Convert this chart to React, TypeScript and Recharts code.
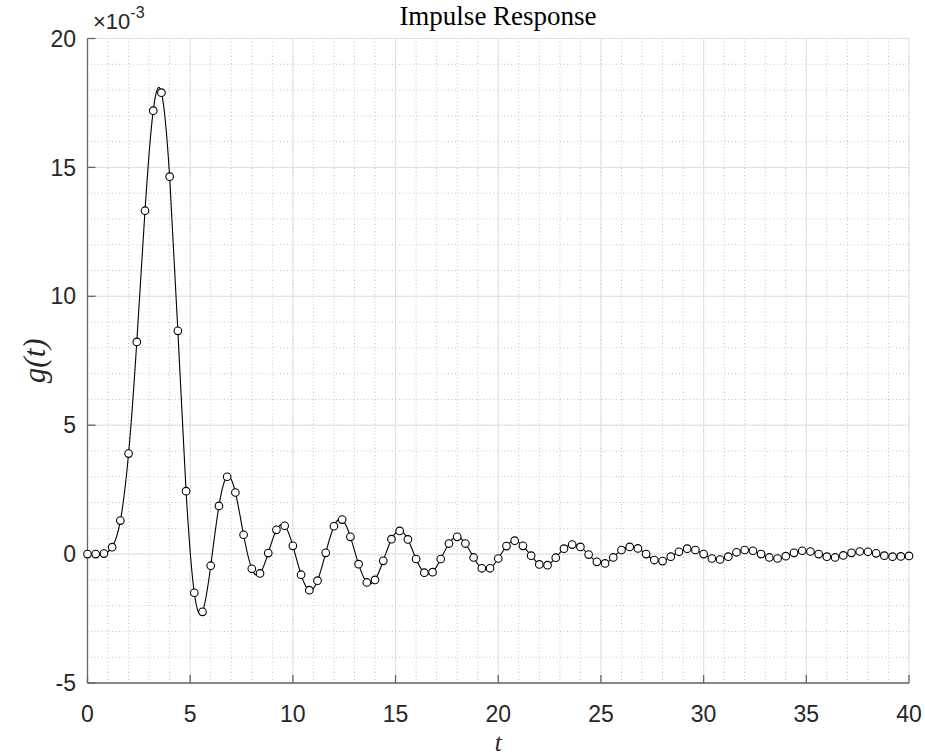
import React from 'react';
import { LineChart, Line, XAxis, YAxis, CartesianGrid } from 'recharts';

// sample times (s), one every 0.4
const T_VALUES = [
  0, 0.4, 0.8, 1.2, 1.6, 2.0, 2.4, 2.8, 3.2, 3.6,
  4.0, 4.4, 4.8, 5.2, 5.6, 6.0, 6.4, 6.8, 7.2, 7.6,
  8.0, 8.4, 8.8, 9.2, 9.6, 10.0, 10.4, 10.8, 11.2, 11.6,
  12.0, 12.4, 12.8, 13.2, 13.6, 14.0, 14.4, 14.8, 15.2, 15.6,
  16.0, 16.4, 16.8, 17.2, 17.6, 18.0, 18.4, 18.8, 19.2, 19.6,
  20.0, 20.4, 20.8, 21.2, 21.6, 22.0, 22.4, 22.8, 23.2, 23.6,
  24.0, 24.4, 24.8, 25.2, 25.6, 26.0, 26.4, 26.8, 27.2, 27.6,
  28.0, 28.4, 28.8, 29.2, 29.6, 30.0, 30.4, 30.8, 31.2, 31.6,
  32.0, 32.4, 32.8, 33.2, 33.6, 34.0, 34.4, 34.8, 35.2, 35.6,
  36.0, 36.4, 36.8, 37.2, 37.6, 38.0, 38.4, 38.8, 39.2, 39.6,
  40.0,
];

// g(t) in units of 1e-3
const G_VALUES = [
  0, 0, 0.02, 0.27, 1.3, 3.9, 8.23, 13.32, 17.2, 17.9,
  14.64, 8.66, 2.44, -1.5, -2.24, -0.45, 1.87, 3.0, 2.39, 0.75,
  -0.57, -0.75, 0.04, 0.94, 1.1, 0.32, -0.8, -1.4, -1.03, 0.05,
  1.08, 1.34, 0.67, -0.39, -1.1, -1.0, -0.26, 0.58, 0.9, 0.57,
  -0.19, -0.72, -0.7, -0.19, 0.41, 0.67, 0.41, -0.13, -0.55, -0.55,
  -0.17, 0.31, 0.52, 0.32, -0.06, -0.4, -0.43, -0.14, 0.21, 0.37,
  0.28, -0.02, -0.3, -0.36, -0.13, 0.16, 0.28, 0.22, 0, -0.23,
  -0.27, -0.1, 0.09, 0.21, 0.16, 0, -0.17, -0.21, -0.1, 0.07,
  0.16, 0.13, 0, -0.13, -0.17, -0.08, 0.05, 0.13, 0.1, 0,
  -0.1, -0.13, -0.05, 0.05, 0.1, 0.09, 0.03, -0.06, -0.1, -0.09,
  -0.07,
];

const X_TICKS = [0, 5, 10, 15, 20, 25, 30, 35, 40];
const X_MINOR_TICKS = [
  0, 1, 2, 3, 4, 5, 6, 7, 8, 9, 10, 11, 12, 13, 14, 15, 16, 17, 18, 19, 20,
  21, 22, 23, 24, 25, 26, 27, 28, 29, 30, 31, 32, 33, 34, 35, 36, 37, 38, 39, 40,
];
const Y_TICKS = [-5, 0, 5, 10, 15, 20];
const Y_MINOR_TICKS = [
  -5, -4, -3, -2, -1, 0, 1, 2, 3, 4, 5, 6, 7, 8, 9, 10, 11, 12, 13, 14, 15, 16, 17, 18, 19, 20,
];

const data = T_VALUES.map((t, i) => ({ t, g: G_VALUES[i] }));

const AXIS_COLOR = '#666';
const TEXT_COLOR = '#262626';
const SANS = '"Liberation Sans", Arial, Helvetica, sans-serif';
const SERIF = '"Liberation Serif", "Times New Roman", serif';
const tickStyle = { fontSize: 23, fill: TEXT_COLOR, fontFamily: SANS };
const noTick = () => <g />;

export default function App() {
  return (
    <div style={{ position: 'absolute', left: 0, top: 0, width: 925, height: 756, background: '#fff' }}>
      <LineChart
        width={925}
        height={756}
        data={data}
        margin={{ top: 38.5, right: 16, bottom: 33, left: 27.5 }}
      >
        {/* axes only used to place the dotted minor grid */}
        <XAxis
          xAxisId="minor"
          dataKey="t"
          orientation="top"
          type="number"
          domain={[0, 40]}
          ticks={X_MINOR_TICKS}
          interval={0}
          allowDataOverflow
          height={0}
          axisLine={false}
          tickLine={false}
          tick={noTick}
        />
        <YAxis
          yAxisId="minor"
          type="number"
          domain={[-5, 20]}
          ticks={Y_MINOR_TICKS}
          interval={0}
          allowDataOverflow
          width={0}
          axisLine={false}
          tickLine={false}
          tick={noTick}
        />
        <CartesianGrid xAxisId="minor" yAxisId="minor" stroke="#c4c4c4" strokeDasharray="1 2.5" />
        <CartesianGrid stroke="#e0e0e0" />

        <XAxis
          dataKey="t"
          type="number"
          domain={[0, 40]}
          ticks={X_TICKS}
          interval={0}
          height={40}
          tickSize={-8}
          tickMargin={31}
          axisLine={{ stroke: AXIS_COLOR, strokeWidth: 1.3 }}
          tickLine={{ stroke: AXIS_COLOR, strokeWidth: 1.3 }}
          tick={tickStyle}
          label={{
            value: 't',
            position: 'bottom',
            offset: 10.5,
            style: { fontFamily: SERIF, fontStyle: 'italic', fontSize: 25, fill: TEXT_COLOR },
          }}
        />
        <XAxis
          xAxisId="top"
          dataKey="t"
          orientation="top"
          type="number"
          domain={[0, 40]}
          ticks={X_TICKS}
          interval={0}
          allowDataOverflow
          height={0}
          tickSize={-8}
          axisLine={{ stroke: AXIS_COLOR, strokeWidth: 1.3 }}
          tickLine={{ stroke: AXIS_COLOR, strokeWidth: 1.3 }}
          tick={noTick}
        />
        <YAxis
          type="number"
          domain={[-5, 20]}
          ticks={Y_TICKS}
          interval={0}
          width={60}
          tickSize={-8}
          tickMargin={19.5}
          axisLine={{ stroke: AXIS_COLOR, strokeWidth: 1.3 }}
          tickLine={{ stroke: AXIS_COLOR, strokeWidth: 1.3 }}
          tick={tickStyle}
          label={{
            value: 'g(t)',
            angle: -90,
            position: 'insideLeft',
            offset: 6,
            style: { textAnchor: 'middle', fontFamily: SERIF, fontStyle: 'italic', fontSize: 31, fill: TEXT_COLOR },
          }}
        />
        <YAxis
          yAxisId="right"
          orientation="right"
          type="number"
          domain={[-5, 20]}
          ticks={Y_TICKS}
          interval={0}
          allowDataOverflow
          width={0}
          tickSize={-8}
          axisLine={{ stroke: AXIS_COLOR, strokeWidth: 1.3 }}
          tickLine={{ stroke: AXIS_COLOR, strokeWidth: 1.3 }}
          tick={noTick}
        />

        <Line
          type="natural"
          dataKey="g"
          stroke="#000"
          strokeWidth={1.1}
          dot={{ r: 3.8, stroke: '#000', strokeWidth: 1.1, fill: '#fff' }}
          activeDot={false}
          isAnimationActive={false}
        />
      </LineChart>

      <svg
        width={925}
        height={756}
        style={{ position: 'absolute', left: 0, top: 0, pointerEvents: 'none' }}
      >
        <text x={498} y={25} textAnchor="middle" fontFamily={SERIF} fontSize={27} fill="#000">
          Impulse Response
        </text>
        <text x={93} y={29} fontFamily={SANS} fontSize={22} fill={TEXT_COLOR}>
          ×10
          <tspan dy={-11} fontSize={16}>-3</tspan>
        </text>
      </svg>
    </div>
  );
}
